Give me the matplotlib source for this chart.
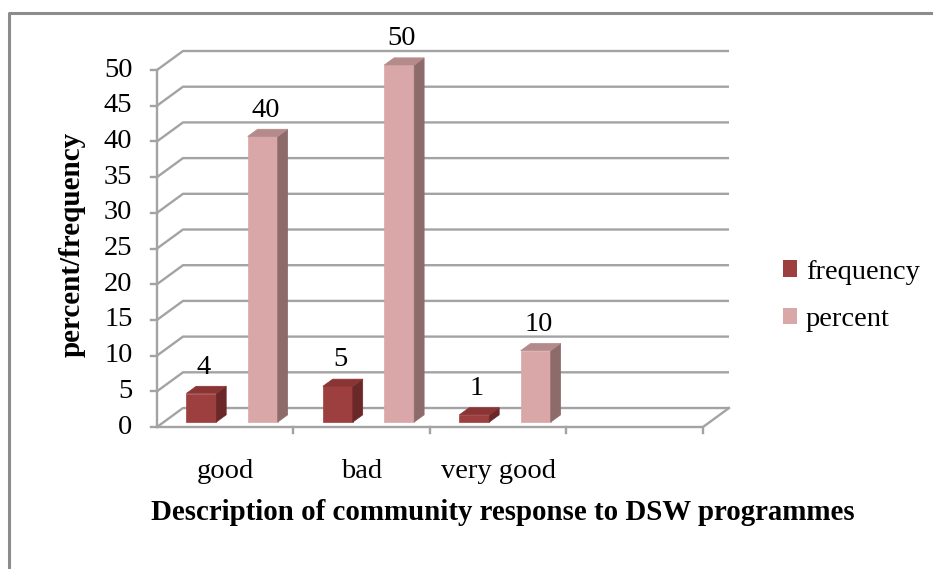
import matplotlib.pyplot as plt
from matplotlib.patches import Polygon, Patch
from matplotlib.lines import Line2D

categories = ["good", "bad", "very good"]
frequency = [4, 5, 1]
percent = [40, 50, 10]
y_ticks = list(range(0, 55, 5))

n_slots = 4            # the category axis has one empty slot at the end
DX, DY = 0.1905, 2.66  # depth offset of the back wall (category units, value units)
BAR_W = 0.22
D0, D1 = 0.26, 0.64    # depth span of the bars
FS = 20.5

grid_col = "#a3a3a3"
series = [
    ("frequency", frequency, 0.275, ("#9e3f3f", "#6b2828", "#8a3434")),
    ("percent", percent, 0.725, ("#d9a7a7", "#8d6b6b", "#b58a8a")),
]

plt.rcParams["font.family"] = ["Liberation Serif", "DejaVu Serif"]

fig = plt.figure(figsize=(9.33, 5.69), dpi=100)
ax = fig.add_axes([0, 0, 1, 1])
ax.set_xlim(-157 / 136.5, (933 - 157) / 136.5)
ax.set_ylim(-(569 - 427) / 7.14, 427 / 7.14)
ax.axis("off")


def proj(x, y, d):
    return (x + d * DX, y + d * DY)


# walls and floor
for v in y_ticks:
    x0, y0 = proj(0, v, 0)
    x1, y1 = proj(0, v, 1)
    x2, y2 = proj(n_slots, v, 1)
    ax.plot([x0, x1, x2], [y0, y1, y2], color=grid_col, lw=1.7, zorder=1,
            solid_capstyle="butt")
    ax.plot([x0 - 0.045, x0], [v, v], color=grid_col, lw=1.7, zorder=1)
    ax.text(-0.18, v, str(v), ha="right", va="center", fontsize=FS)

ax.plot([0, 0], [0, max(y_ticks)], color=grid_col, lw=1.7, zorder=1)
fx, fy = proj(n_slots, 0, 1)
ax.plot([0, n_slots, fx], [0, 0, fy], color=grid_col, lw=1.7, zorder=1)
for i in range(1, n_slots + 1):
    ax.plot([i, i], [0, -0.9], color=grid_col, lw=1.7, zorder=1)

# 3d-looking columns
for name, vals, off, (front, side, top) in series:
    for i, v in enumerate(vals):
        xl = i + off - BAR_W / 2
        xr = i + off + BAR_W / 2
        faces = [
            ([proj(xl, 0, D0), proj(xr, 0, D0), proj(xr, v, D0), proj(xl, v, D0)], front),
            ([proj(xr, 0, D0), proj(xr, 0, D1), proj(xr, v, D1), proj(xr, v, D0)], side),
            ([proj(xl, v, D0), proj(xr, v, D0), proj(xr, v, D1), proj(xl, v, D1)], top),
        ]
        for pts, col in faces:
            ax.add_patch(Polygon(pts, closed=True, facecolor=col,
                                 edgecolor=col, lw=0.5, zorder=3))
        lx, ly = proj(i + off, v, D0)
        ax.text(lx + 0.02, ly + 3.7, str(v), ha="center", va="center",
                fontsize=FS, zorder=4)

for i, c in enumerate(categories):
    ax.text(i + 0.5, -6.3, c, ha="center", va="center", fontsize=FS)

ax.text(503 / 136.5 - 157 / 136.5, -(512 - 427) / 7.14,
        "Description of community response to DSW programmes",
        ha="center", va="center", fontsize=20.8, fontweight="bold")
ax.text(-(157 - 72) / 136.5, 25.5, "percent/frequency", rotation=90,
        ha="center", va="center", fontsize=21, fontweight="bold")

handles = [Patch(facecolor=s[3][0], edgecolor="none", label=s[0]) for s in series]
fig.legend(handles=handles, loc="center left", bbox_to_anchor=(783 / 933, 1 - 296 / 569),
           frameon=False, fontsize=FS, handlelength=0.5, handleheight=0.5,
           handletextpad=0.3, labelspacing=0.8, borderpad=0, borderaxespad=0)

# outer chart border (top and left edges fall inside the image)
fig.add_artist(Line2D([9 / 933, 9 / 933, 1], [0, 1 - 13 / 569, 1 - 13 / 569],
                      transform=fig.transFigure, color="#8c8c8c", lw=2.2))

fig.savefig("out.png", dpi=100, facecolor="white")
